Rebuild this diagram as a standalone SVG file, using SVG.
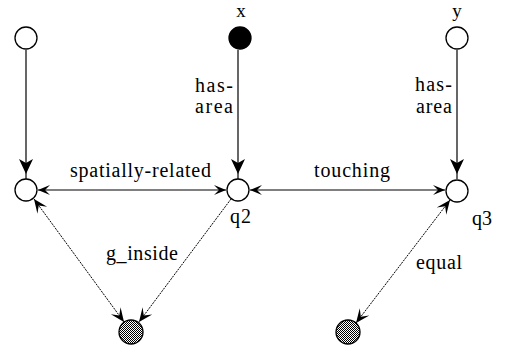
<svg xmlns="http://www.w3.org/2000/svg" width="505" height="354" viewBox="0 0 505 354" font-family="'Liberation Serif', 'DejaVu Serif', serif" font-size="20">
<style>
.t{font-family:"Liberation Serif","Times New Roman","DejaVu Serif",serif;font-size:20px;fill:#000}
.tv{font-size:19px}
.n{fill:#fff;stroke:#000;stroke-width:1.3}
.b{fill:#000;stroke:#000;stroke-width:1.3}
.g{fill:url(#chk);stroke:#000;stroke-width:1.3}
.s{stroke:#000;stroke-width:1.2;fill:none}
.d{stroke:#000;stroke-width:1;fill:none;stroke-dasharray:2 1}
</style>
<defs>
<pattern id="chk" width="2" height="2" patternUnits="userSpaceOnUse">
<rect width="2" height="2" fill="#fff"/>
<rect width="1" height="1" fill="#000"/>
<rect x="1" y="1" width="1" height="1" fill="#000"/>
</pattern>
<marker id="fa" markerUnits="userSpaceOnUse" viewBox="-16 -8 22 16" markerWidth="22" markerHeight="16" refX="5" refY="0" orient="auto">
<path d="M-15,-7 L0,0 L-15,7 L-11,0 z" fill="#000"/>
</marker>
<marker id="oa" markerUnits="userSpaceOnUse" viewBox="-14 -7 16 14" markerWidth="16" markerHeight="14" refX="0" refY="0" orient="auto-start-reverse">
<path d="M-12,-5 L0,0 L-12,5 L-7,0 z" fill="#000"/>
</marker>
<marker id="da" markerUnits="userSpaceOnUse" viewBox="-16 -8 18 16" markerWidth="18" markerHeight="16" refX="0" refY="0" orient="auto-start-reverse">
<path d="M-14,-6 L0,0 L-14,6 L-8,0 z" fill="#000"/>
</marker>
</defs>
<g id="connectors">
<line class="s" x1="26" y1="50" x2="26" y2="179" marker-end="url(#fa)"/>
<line class="s" x1="238" y1="50" x2="238" y2="179" marker-end="url(#fa)"/>
<line class="s" x1="457" y1="50" x2="457" y2="179" marker-end="url(#fa)"/>
<line class="s" x1="38" y1="190" x2="226" y2="190" marker-start="url(#oa)" marker-end="url(#oa)"/>
<line class="s" x1="250" y1="190" x2="445" y2="190" marker-start="url(#oa)" marker-end="url(#oa)"/>
<line class="d" x1="34" y1="199" x2="124" y2="322" marker-start="url(#da)" marker-end="url(#da)"/>
<line class="d" x1="231" y1="199" x2="139" y2="322" marker-end="url(#da)"/>
<line class="d" x1="450" y1="200" x2="356" y2="323" marker-start="url(#da)" marker-end="url(#da)"/>
</g>
<g id="n1"><circle class="n" cx="26" cy="38" r="11"/></g>
<g id="x"><circle class="b" cx="240" cy="38" r="11"/><text class="t tv" x="241" y="17" text-anchor="middle">x</text></g>
<g id="y"><circle class="n" cx="457" cy="38" r="11"/><text class="t tv" x="457" y="17" text-anchor="middle">y</text></g>
<g id="n4"><circle class="n" cx="26" cy="190" r="11"/></g>
<g id="q2"><circle class="n" cx="238" cy="190" r="11"/><text class="t" x="230" y="223" textLength="21">q2</text></g>
<g id="q3"><circle class="n" cx="457" cy="191" r="11"/><text class="t" x="472" y="225" textLength="20">q3</text></g>
<g id="g1"><circle class="g" cx="131" cy="332" r="12"/></g>
<g id="g2"><circle class="g" cx="348" cy="332" r="12"/></g>
<g id="labels">
<text class="t" x="195" y="92" textLength="38">has-</text>
<text class="t" x="195" y="113" textLength="38">area</text>
<text class="t" x="415" y="91" textLength="37">has-</text>
<text class="t" x="416" y="113" textLength="36">area</text>
<text class="t" x="70" y="177" textLength="141">spatially-related</text>
<text class="t" x="314" y="177" textLength="76">touching</text>
<text class="t" x="106" y="260" textLength="72">g_inside</text>
<text class="t" x="416" y="269" textLength="46">equal</text>
</g>
</svg>
